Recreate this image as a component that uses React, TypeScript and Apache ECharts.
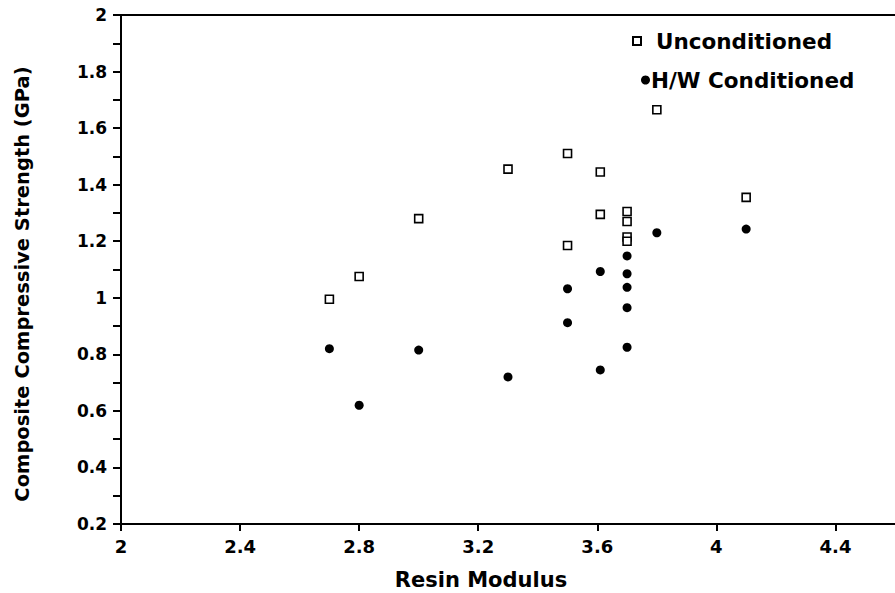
import React, { useEffect, useRef } from "react";
import * as echarts from "echarts";

const uncondX = [2.7, 2.8, 3.0, 3.3, 3.5, 3.5, 3.61, 3.61, 3.7, 3.7, 3.7, 3.7, 3.8, 4.1];
const uncondY = [0.995, 1.075, 1.28, 1.455, 1.51, 1.185, 1.445, 1.295, 1.305, 1.27, 1.215, 1.2, 1.665, 1.355];
const condX = [2.7, 2.8, 3.0, 3.3, 3.5, 3.5, 3.61, 3.61, 3.7, 3.7, 3.7, 3.7, 3.7, 3.8, 4.1];
const condY = [0.82, 0.62, 0.815, 0.72, 1.032, 0.912, 1.093, 0.745, 1.148, 1.085, 1.037, 0.965, 0.825, 1.23, 1.243];

const xTitle = "Resin Modulus";
const yTitle = "Composite Compressive Strength (GPa)";
const seriesNames = ["Unconditioned", "H/W Conditioned"];

const FONT = "DejaVu Sans";

export default function App() {
  const ref = useRef<HTMLDivElement>(null);
  useEffect(() => {
    if (!ref.current) return;
    const chart = echarts.init(ref.current, null, { renderer: "svg" });
    const pts = (xs: number[], ys: number[]) => xs.map((x, i) => [x, ys[i]]);
    chart.setOption({
      animation: false,
      backgroundColor: "#fff",
      grid: {
        left: 121,
        top: 15,
        right: -4,
        bottom: 69,
        show: false,
      },
      xAxis: [
        {
          type: "value",
          position: "bottom",
          min: 2,
          max: 4.6,
          interval: 0.4,
          splitLine: { show: false },
          axisLine: { show: true, onZero: false, lineStyle: { color: "#000", width: 2 } },
          axisTick: { show: true, inside: false, length: 7, lineStyle: { color: "#000", width: 2 } },
          axisLabel: {
            color: "#000",
            fontFamily: FONT,
            fontWeight: "bold",
            fontSize: 18,
            margin: 13,
            showMaxLabel: false,
            formatter: (v: number) => String(Math.round(v * 10) / 10),
          },
        },
        {
          type: "value",
          position: "top",
          min: 2,
          max: 4.6,
          splitLine: { show: false },
          axisLine: { show: true, onZero: false, lineStyle: { color: "#000", width: 2 } },
          axisTick: { show: false },
          axisLabel: { show: false },
        },
      ],
      yAxis: {
        type: "value",
        min: 0.2,
        max: 2,
        interval: 0.2,
        splitLine: { show: false },
        axisLine: { show: true, onZero: false, lineStyle: { color: "#000", width: 2 } },
        axisTick: { show: true, inside: false, length: 8, lineStyle: { color: "#000", width: 2 } },
        minorTick: { show: true, splitNumber: 2, length: 8, lineStyle: { color: "#000", width: 2 } },
        minorSplitLine: { show: false },
        axisLabel: {
          color: "#000",
          fontFamily: FONT,
          fontWeight: "bold",
          fontSize: 17,
          margin: 14,
          formatter: (v: number) => String(Math.round(v * 10) / 10),
        },
      },
      legend: [
        {
          data: [seriesNames[0]],
          left: 627,
          top: 25,
          itemWidth: 8,
          itemHeight: 8,
          textStyle: {
            color: "#000",
            fontFamily: FONT,
            fontWeight: "bold",
            fontSize: 21.5,
            padding: [0, 0, 0, 10],
          },
        },
        {
          data: [seriesNames[1]],
          left: 636,
          top: 64,
          itemWidth: 9,
          itemHeight: 9,
          textStyle: {
            color: "#000",
            fontFamily: FONT,
            fontWeight: "bold",
            fontSize: 21.5,
            padding: [0, 0, 0, -4],
          },
        },
      ],
      graphic: [
        {
          type: "text",
          x: 481,
          y: 580,
          style: {
            text: xTitle,
            fill: "#000",
            font: `bold 21px "${FONT}"`,
            textAlign: "center",
            textVerticalAlign: "middle",
          },
        },
        {
          type: "text",
          x: 22,
          y: 284,
          rotation: Math.PI / 2,
          style: {
            text: yTitle,
            fill: "#000",
            font: `bold 19.5px "${FONT}"`,
            textAlign: "center",
            textVerticalAlign: "middle",
          },
        },
      ],
      series: [
        {
          name: seriesNames[0],
          type: "scatter",
          symbol: "rect",
          symbolSize: 8,
          itemStyle: { color: "#fff", borderColor: "#000", borderWidth: 1.6, opacity: 1 },
          data: pts(uncondX, uncondY),
        },
        {
          name: seriesNames[1],
          type: "scatter",
          symbol: "circle",
          symbolSize: 9,
          itemStyle: { color: "#000", opacity: 1 },
          data: pts(condX, condY),
        },
      ],
    });
    return () => chart.dispose();
  }, []);
  return <div ref={ref} style={{ width: 895, height: 593, position: "absolute", left: 0, top: 0 }} />;
}
